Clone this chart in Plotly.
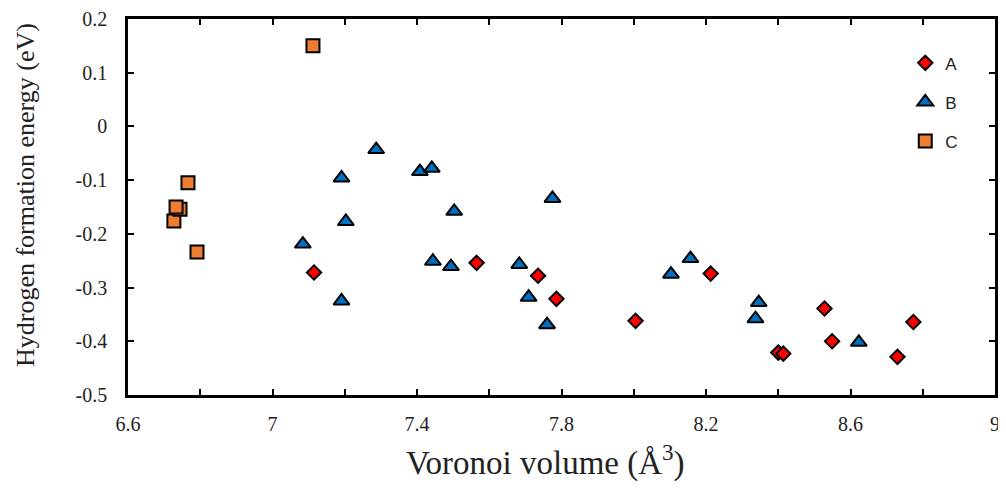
import plotly.graph_objects as go

# Series A (diamonds)
a_x = [7.115, 7.565, 7.735, 7.786, 8.005, 8.213, 8.400, 8.414, 8.528, 8.549, 8.730, 8.774]
a_y = [-0.272, -0.254, -0.278, -0.321, -0.362, -0.274, -0.421, -0.423, -0.339, -0.400, -0.429, -0.364]

# Series B (triangles)
b_x = [7.084, 7.191, 7.191, 7.203, 7.287, 7.408, 7.441, 7.444, 7.494, 7.503,
       7.683, 7.709, 7.760, 7.775, 8.103, 8.157, 8.337, 8.346, 8.623]
b_y = [-0.219, -0.096, -0.325, -0.177, -0.043, -0.084, -0.078, -0.251, -0.261, -0.158,
       -0.257, -0.318, -0.369, -0.134, -0.275, -0.246, -0.358, -0.328, -0.402]

# Series C (squares)
c_x = [6.727, 6.744, 6.733, 6.766, 6.791, 7.112]
c_y = [-0.176, -0.154, -0.150, -0.105, -0.234, 0.150]

x_tickvals = [6.6, 7.0, 7.4, 7.8, 8.2, 8.6, 9.0]
x_ticktext = ["6.6", "7", "7.4", "7.8", "8.2", "8.6", "9"]
x_minorvals = [6.8, 7.2, 7.6, 8.0, 8.4, 8.8]
y_tickvals = [-0.5, -0.4, -0.3, -0.2, -0.1, 0.0, 0.1, 0.2]
y_ticktext = ["-0.5", "-0.4", "-0.3", "-0.2", "-0.1", "0", "0.1", "0.2"]

serif = "Liberation Serif"

fig = go.Figure()
fig.add_trace(go.Scatter(
    x=a_x, y=a_y, mode="markers", name="A", legendgroup="A",
    marker=dict(symbol="diamond", size=11, color="#FF0000",
                line=dict(color="black", width=2))))
fig.add_trace(go.Scatter(
    x=b_x, y=b_y, mode="markers", name="B", legendgroup="B",
    marker=dict(symbol="triangle-up", size=14, color="#0070C0",
                line=dict(color="black", width=2))))
fig.add_trace(go.Scatter(
    x=c_x, y=c_y, mode="markers", name="C", legendgroup="C",
    marker=dict(symbol="square", size=13, color="#ED7D31",
                line=dict(color="black", width=2))))

axis_common = dict(
    showgrid=False, zeroline=False, showline=True, linecolor="black", linewidth=2.5,
    mirror="ticks", ticks="inside", ticklen=6, tickwidth=2, tickcolor="black",
    tickfont=dict(family=serif, size=20, color="#222222"),
    ticklabeloverflow="allow",
)

fig.update_xaxes(range=[6.6, 9.0], tickmode="array", tickvals=x_tickvals,
                 ticktext=x_ticktext, ticklabelstandoff=9,
                 minor=dict(tickmode="array", tickvals=x_minorvals, ticks="inside",
                            ticklen=6, tickwidth=2, tickcolor="black", showgrid=False),
                 **axis_common)
fig.update_yaxes(range=[-0.5, 0.2], tickmode="array", tickvals=y_tickvals,
                 ticktext=y_ticktext, ticklabelstandoff=14, **axis_common)

# page body has an 8px margin; compensate so the plot sits at the reference pixels
fig.update_layout(
    width=998, height=494,
    margin=dict(l=120, r=11, t=11, b=107, autoexpand=False),
    paper_bgcolor="white", plot_bgcolor="white",
    showlegend=True,
    legend=dict(x=0.8965, y=0.93, xanchor="left", yanchor="top",
                traceorder="grouped", tracegroupgap=14,
                font=dict(family="Liberation Sans", size=17, color="#222222"),
                bgcolor="rgba(0,0,0,0)"),
    annotations=[
        dict(text="Hydrogen formation energy (eV)", textangle=-90,
             x=-0.1176, y=0.532, xref="paper", yref="paper",
             xanchor="center", yanchor="middle", showarrow=False,
             font=dict(family=serif, size=26, color="#222222")),
        dict(text="Voronoi volume (Å<sup>3</sup>)",
             x=0.482, y=-0.1755, xref="paper", yref="paper",
             xanchor="center", yanchor="middle", showarrow=False,
             font=dict(family=serif, size=33, color="#222222")),
    ],
)

fig.write_html("out.html")
